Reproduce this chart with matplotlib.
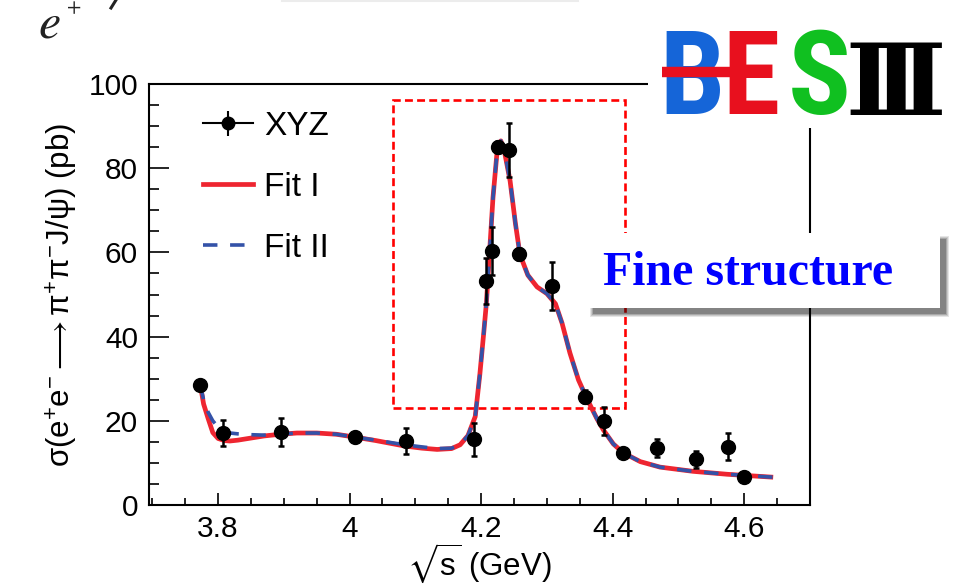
import matplotlib
matplotlib.use('Agg')
import matplotlib.pyplot as plt
from matplotlib.patches import Rectangle
from matplotlib.lines import Line2D
from matplotlib.ticker import MultipleLocator
from matplotlib import font_manager
from matplotlib.font_manager import FontProperties

# measured points (XYZ)
energy = [3.773, 3.808, 3.896, 4.008, 4.086, 4.189, 4.208, 4.217, 4.226, 4.242,
          4.258, 4.308, 4.358, 4.387, 4.416, 4.467, 4.527, 4.575, 4.600]
xsec = [28.5, 17.1, 17.3, 16.1, 15.2, 15.6, 53.2, 60.3, 85.0, 84.3,
        59.6, 52.0, 25.7, 20.0, 12.3, 13.5, 10.9, 13.8, 6.6]
xsec_err = [0.8, 3.2, 3.4, 1.2, 3.1, 3.9, 5.5, 5.7, 1.5, 6.4,
            1.4, 5.7, 1.5, 3.3, 1.0, 2.2, 2.0, 3.2, 1.0]

# fit curves
fit_x = [3.773, 3.778, 3.785, 3.792, 3.800, 3.810, 3.818, 3.830, 3.850, 3.870,
         3.894, 3.920, 3.950, 3.980, 4.005, 4.040, 4.084, 4.110, 4.133, 4.155,
         4.168, 4.180, 4.191, 4.198, 4.204, 4.208, 4.212, 4.218, 4.224, 4.230,
         4.236, 4.244, 4.252, 4.259, 4.271, 4.285, 4.300, 4.313, 4.323, 4.335,
         4.348, 4.361, 4.376, 4.386, 4.401, 4.416, 4.442, 4.472, 4.522, 4.574,
         4.644]
fit1_y = [28.5, 24.0, 20.5, 17.2, 15.8, 15.3, 15.2, 15.4, 15.9, 16.4,
          16.8, 17.1, 17.1, 16.8, 16.2, 15.3, 14.0, 13.5, 13.2, 13.4,
          14.3, 16.5, 21.0, 31.0, 41.0, 48.0, 58.0, 73.0, 83.5, 86.5,
          83.5, 77.0, 67.0, 59.5, 54.6, 51.8, 50.2, 47.8, 43.2, 36.1,
          29.7, 25.2, 20.5, 17.8, 14.5, 12.4, 10.3, 9.0, 8.0, 7.3,
          6.6]
fit2_y = [28.5, 25.0, 22.0, 20.0, 18.5, 17.5, 17.1, 16.9, 16.7, 16.6,
          16.8, 17.1, 17.1, 16.8, 16.2, 15.4, 14.3, 13.8, 13.4, 13.5,
          14.3, 16.5, 21.0, 31.0, 41.0, 48.0, 58.0, 73.0, 83.5, 86.5,
          83.5, 77.0, 67.0, 59.5, 54.6, 51.8, 50.2, 47.8, 43.2, 36.1,
          29.7, 25.2, 20.5, 17.8, 14.5, 12.4, 10.3, 9.0, 8.0, 7.3,
          6.6]

# "fine structure" region
box_x = [4.066, 4.419]
box_y = [23.0, 96.2]

plt.rcParams['font.family'] = ['Liberation Sans', 'DejaVu Sans']
plt.rcParams['mathtext.fontset'] = 'custom'
plt.rcParams['mathtext.rm'] = 'Liberation Sans'
plt.rcParams['mathtext.it'] = 'Liberation Sans:italic'
plt.rcParams['mathtext.fallback'] = 'stix'

W, H = 960, 587
def fx(px):
    return px / W
def fy(py):
    return 1 - py / H

fig = plt.figure(figsize=(9.6, 5.87), dpi=100)
ax = fig.add_axes([fx(149), fy(505), (810 - 149) / W, (505 - 84) / H])

red = '#ee2530'
blue = '#3452a8'

ax.add_patch(Rectangle((box_x[0], box_y[0]), box_x[1] - box_x[0], box_y[1] - box_y[0],
                       fill=False, ec='red', lw=1.9, ls=(0, (3, 1.6)), zorder=1))
ax.plot(fit_x, fit1_y, color=red, lw=3.4, zorder=3, solid_capstyle='butt')
ax.plot(fit_x, fit2_y, color=blue, lw=2.6, ls=(0, (4, 3.5)), zorder=4)
ax.errorbar(energy, xsec, yerr=xsec_err, fmt='o', color='black', ms=10,
            elinewidth=1.8, capsize=2.5, capthick=1.8, zorder=5)

ax.set_xlim(3.695, 4.70)
ax.set_ylim(0, 100)
ax.xaxis.set_major_locator(MultipleLocator(0.2))
ax.xaxis.set_minor_locator(MultipleLocator(0.05))
ax.yaxis.set_major_locator(MultipleLocator(20))
ax.yaxis.set_minor_locator(MultipleLocator(5))
ax.set_xticks([3.8, 4.0, 4.2, 4.4, 4.6])
ax.set_xticklabels(['3.8', '4', '4.2', '4.4', '4.6'])
ax.tick_params(axis='both', which='both', direction='in', width=1.2, labelsize=21.5)
ax.tick_params(axis='x', which='major', length=9, pad=7)
ax.tick_params(axis='x', which='minor', length=5)
ax.tick_params(axis='y', which='major', length=14.5, pad=8)
ax.tick_params(axis='y', which='minor', length=7.2)
for s in ax.spines.values():
    s.set_linewidth(1.5)

ax.set_ylabel(r'σ(e$^{+}$e$^{-}$$\longrightarrow$π$^{+}$π$^{-}$J/ψ) (pb)', fontsize=22.5, labelpad=6)
ax.set_xlabel(r'$\sqrt{\mathrm{s}}$ (GeV)', fontsize=22.5, labelpad=-1)

h_xyz = (Line2D([], [], color='black', lw=1.5),
         Line2D([], [], color='black', marker='|', ms=18, mew=1.5, ls='none'),
         Line2D([], [], color='black', marker='o', ms=9, ls='none'))
h_fit1 = Line2D([], [], color=red, lw=3.4)
h_fit2 = Line2D([], [], color=blue, lw=2.6, ls=(0, (4, 3.5)))
ax.legend([h_xyz, h_fit1, h_fit2], ['XYZ', 'Fit I', 'Fit II'], loc='upper left',
          bbox_to_anchor=(0.082, 0.937), frameon=False, fontsize=24,
          handlelength=1.5, handletextpad=0.33, labelspacing=0.9,
          borderpad=0, borderaxespad=0)

# faint slide box edge at the very top
fig.add_artist(Line2D([fx(282), fx(578)], [fy(1), fy(1)], color='#ececec', lw=1.5,
                      transform=fig.transFigure))

# cut-off slide title at top left
fig.text(fx(38), fy(1), r'$e$', fontsize=36, math_fontfamily='stix',
         va='top', ha='left', color='#222222')
fig.text(fx(74), fy(8), r'$+$', fontsize=15, math_fontfamily='stix',
         va='center', ha='center', color='#222222')
fig.add_artist(Line2D([fx(111), fx(116)], [fy(8), fy(0)], color='#222222', lw=2.2,
                      transform=fig.transFigure))

# "Fine structure" callout with shadow
bx0, by0, bx1, by1 = 587, 233, 940, 308
for i, a in enumerate([0.10, 0.12, 0.16, 0.22]):
    g = 3 - i
    fig.patches.append(Rectangle((fx(bx0 + 6 - g), fy(by1 + 6 + g)),
                                 (bx1 - bx0 + 2 * g) / W, (by1 - by0 + 2 * g) / H,
                                 transform=fig.transFigure, color='black', alpha=a,
                                 lw=0, zorder=6))
fig.patches.append(Rectangle((fx(bx0), fy(by1)), (bx1 - bx0) / W, (by1 - by0) / H,
                             transform=fig.transFigure, color='white', lw=0, zorder=7))
fig.text(fx(748), fy(285), 'Fine structure', fontsize=34.5, family='Liberation Serif',
         weight='bold', color='#0000ff', ha='center', va='baseline', zorder=8)

# BESIII logo
fig.patches.append(Rectangle((fx(648), fy(128)), (960 - 648) / W, 128 / H,
                             transform=fig.transFigure, color='white', lw=0, zorder=7))
cond = {}
for f in font_manager.fontManager.ttflist:
    n = f.fname.lower().replace(' ', '').replace('-', '')
    if 'italic' in n or 'oblique' in n:
        continue
    for key in ['dejavusanscondensedbold', 'liberationsansnarrowbold', 'robotocondensedbold',
                'opensanscondensedbold', 'notosanscondensedbold']:
        if key in n:
            cond[key] = f.fname
logo_fp = None
for key in ['robotocondensedbold', 'liberationsansnarrowbold', 'notosanscondensedbold',
            'dejavusanscondensedbold', 'opensanscondensedbold']:
    if key in cond:
        logo_fp = FontProperties(fname=cond[key], size=84)
        break
if logo_fp is None:
    logo_fp = FontProperties(family='DejaVu Sans', weight='bold', size=66)

base = fy(114)
fig.text(fx(692), base, 'B', fontproperties=logo_fp, color='#1565d8',
         ha='center', va='baseline', zorder=8)
fig.text(fx(751), base, 'E', fontproperties=logo_fp, color='#e8101e',
         ha='center', va='baseline', zorder=8)
fig.add_artist(Line2D([fx(662), fx(746)], [fy(72), fy(72)], color='#e8101e', lw=7.5,
                      transform=fig.transFigure, zorder=9, solid_capstyle='butt'))
fig.text(fx(819), base, 'S', fontproperties=logo_fp, color='#10c020',
         ha='center', va='baseline', zorder=8)
fig.text(fx(896), fy(115), 'Ⅲ', fontsize=72, family=['DejaVu Serif', 'DejaVu Sans'],
         weight='bold', color='black', ha='center', va='baseline', zorder=8)

fig.savefig('out.png', dpi=100)
